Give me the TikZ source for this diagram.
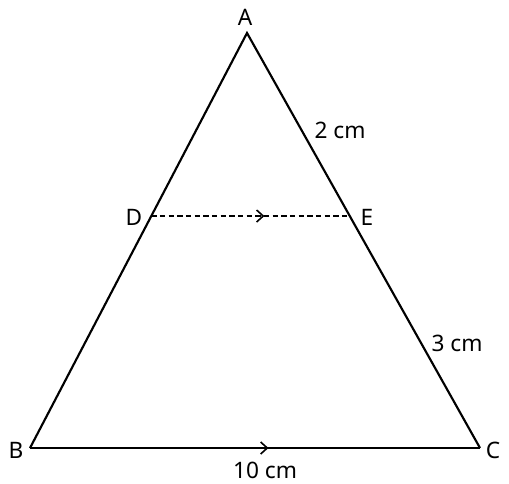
\documentclass[tikz,border=0pt]{standalone}
\usepackage{fontspec}
\setmainfont{Noto Sans}
\usetikzlibrary{calc,decorations.markings,arrows.meta}
\tikzset{every picture/.style={line width=1.6pt}}
\tikzset{
  midarrow/.style={postaction={decorate},decoration={markings,
    mark=at position #1 with {\arrow[solid,line width=1.2pt]{Straight Barb[length=5pt,width=9pt]}}}},
  lbl/.style={inner sep=0.75pt,font=\fontsize{17}{20}\selectfont}
}
\begin{document}
\begin{tikzpicture}[x=0.75pt,y=0.75pt,yscale=-1,xscale=1]
\useasboundingbox (0,0) rectangle (509,483);

% vertices
\coordinate (A) at (247,33);
\coordinate (B) at (30,448);
\coordinate (C) at (480,448);
\coordinate (D) at ($(A)!0.441!(B)$);
\coordinate (E) at ($(A)!0.441!(C)$);

% triangle
\draw (B) -- (A) -- (C);
\draw [midarrow=0.53] (B) -- (C);
% parallel line
\draw [dashed,line width=1pt,dash pattern=on 4pt off 2.5pt,midarrow=0.57] (D) -- (E);

% Text Node
\node [lbl] (lA) at (245,17) {A};
\node [lbl] (lB) at (16,450) {B};
\node [lbl] (lC) at (493,450) {C};
\node [lbl] (lD) at (134,217) {D};
\node [lbl] (lE) at (367,217) {E};
\node [lbl] (l2) at (340,130) {2 cm};
\node [lbl] (l3) at (457,343) {3 cm};
\node [lbl] (l10) at (265,470) {10 cm};
\end{tikzpicture}
\end{document}
